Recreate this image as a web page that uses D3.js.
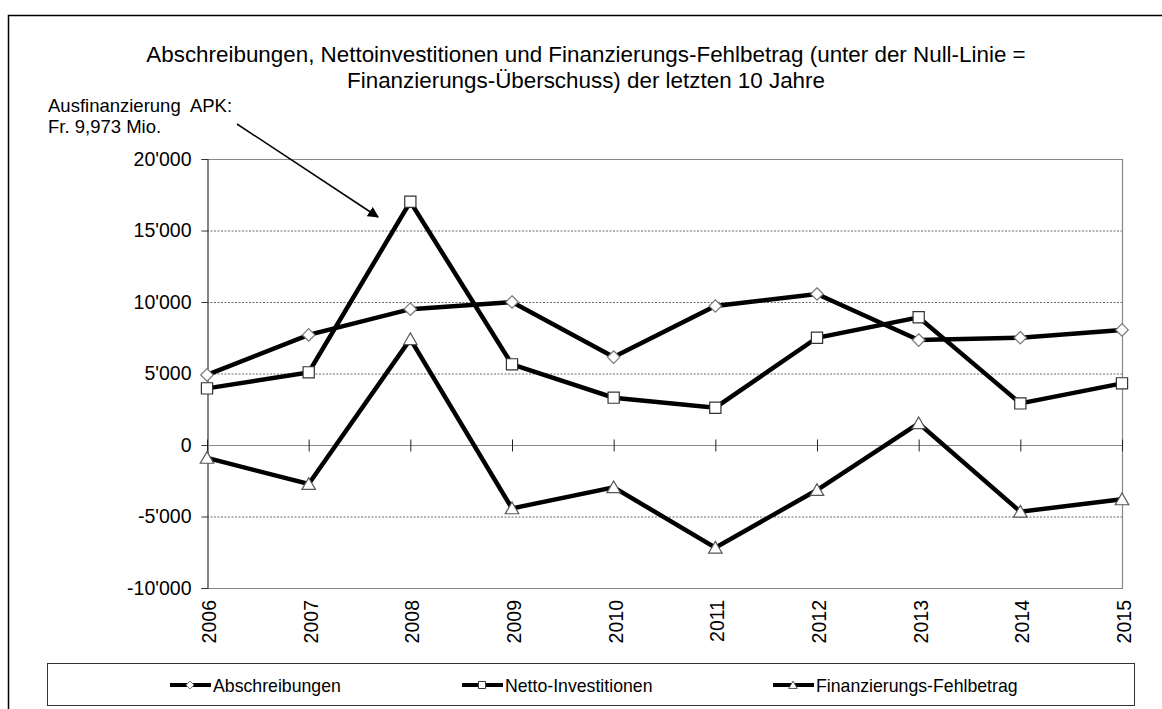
<!DOCTYPE html>
<html>
<head>
<meta charset="utf-8">
<script src="https://cdn.jsdelivr.net/npm/d3@7"></script>
<style>
  body { margin: 0; background: #fff; }
  text { font-family: "Liberation Sans", Arial, sans-serif; fill: #000; }
</style>
</head>
<body>
<svg id="chart"></svg>
<script>
// data
const years = ['2006', '2007', '2008', '2009', '2010', '2011', '2012', '2013', '2014', '2015'];
const abschreibungen = [4900, 7700, 9500, 10000, 6150, 9720, 10560, 7340, 7500, 8050];
const nettoInvestitionen = [3960, 5080, 17010, 5640, 3310, 2610, 7500, 8930, 2910, 4310];
const fehlbetrag = [-900, -2730, 7400, -4430, -2960, -7180, -3150, 1520, -4660, -3800];
const yTicks = [-10000, -5000, 0, 5000, 10000, 15000, 20000];
const seriesNames = ['Abschreibungen', 'Netto-Investitionen', 'Finanzierungs-Fehlbetrag'];

const width = 1162, height = 709;
const margin = { top: 159, right: 40, bottom: 121, left: 207 };

const svg = d3.select('#chart')
    .attr('width', width)
    .attr('height', height);

svg.append('rect').attr('width', width).attr('height', height).attr('fill', '#fff');

// outer frame (runs off the right and bottom edge)
svg.append('rect')
    .attr('x', 8.5).attr('y', 15.5)
    .attr('width', 1300).attr('height', 900)
    .attr('fill', 'none').attr('stroke', '#000').attr('stroke-width', 1.5);

const x = d3.scalePoint()
    .domain(years)
    .range([margin.left, 1122]);

const y = d3.scaleLinear()
    .domain([-10000, 20000])
    .range([588, margin.top]);

const fmt = v => {
    if (v === 0) return '0';
    return d3.format(',')(v).replace(/,/g, "'").replace('−', '-');
};

// title
const title = svg.append('text')
    .attr('text-anchor', 'middle')
    .style('font-size', '22.4px');
title.append('tspan').attr('x', 586).attr('y', 62)
    .text('Abschreibungen, Nettoinvestitionen und Finanzierungs-Fehlbetrag (unter der Null-Linie =');
title.append('tspan').attr('x', 586).attr('y', 88)
    .text('Finanzierungs-Überschuss) der letzten 10 Jahre');

// grid lines
svg.append('g')
    .selectAll('line')
    .data(yTicks.filter(d => d !== 0 && d !== 20000 && d !== -10000))
    .join('line')
    .attr('x1', margin.left).attr('x2', 1122)
    .attr('y1', d => y(d) + 0.5).attr('y2', d => y(d) + 0.5)
    .attr('stroke', '#444').attr('stroke-width', 0.8)
    .attr('stroke-dasharray', '2,1.5');

// plot border (top, right, bottom) in grey
svg.append('path')
    .attr('d', `M${margin.left},${y(20000) + 0.5}H${1122.5}V${y(-10000) + 0.5}H${margin.left}`)
    .attr('fill', 'none').attr('stroke', '#888').attr('stroke-width', 1.2);

// y axis
const yAxis = d3.axisLeft(y).tickValues(yTicks).tickSize(6).tickFormat(fmt);
const yAxisG = svg.append('g')
    .attr('transform', `translate(${margin.left + 0.5},0)`)
    .call(yAxis);
yAxisG.select('.domain').attr('stroke', '#333').attr('stroke-width', 1.2);
yAxisG.selectAll('.tick line').attr('stroke', '#333');
yAxisG.selectAll('.tick text')
    .attr('x', -16)
    .style('font-size', '19.5px')
    .style('font-family', '"Liberation Sans", Arial, sans-serif');

// zero line with x ticks
const xAxisG = svg.append('g')
    .attr('transform', `translate(0,${y(0) + 0.5})`);
xAxisG.append('line')
    .attr('x1', margin.left).attr('x2', 1122)
    .attr('stroke', '#888').attr('stroke-width', 1.2);
xAxisG.selectAll('.xtick')
    .data(years)
    .join('line')
    .attr('class', 'xtick')
    .attr('x1', d => x(d) + 0.5).attr('x2', d => x(d) + 0.5)
    .attr('y1', -6).attr('y2', 6)
    .attr('stroke', '#222');

// x labels, rotated, below the plot
svg.append('g')
    .selectAll('text')
    .data(years)
    .join('text')
    .attr('transform', d => `translate(${x(d) + 9},600) rotate(-90)`)
    .attr('text-anchor', 'end')
    .style('font-size', '19.5px')
    .text(d => d);

// markers
const diamond = d3.symbol().type(d3.symbolDiamond2);
const square = d3.symbol().type(d3.symbolSquare2);
const triangle = d3.symbol().type(d3.symbolTriangle2);

const series = [
    { name: seriesNames[0], values: abschreibungen, sym: diamond, size: 100, stroke: '#777' },
    { name: seriesNames[1], values: nettoInvestitionen, sym: square, size: 160, stroke: '#333' },
    { name: seriesNames[2], values: fehlbetrag, sym: triangle, size: 130, stroke: '#555' }
];

const line = d3.line()
    .x((d, i) => x(years[i]))
    .y(d => y(d));

series.forEach(s => {
    svg.append('path')
        .datum(s.values)
        .attr('d', line)
        .attr('fill', 'none')
        .attr('stroke', '#000')
        .attr('stroke-width', 4.5)
        .attr('stroke-linejoin', 'miter');
});

series.forEach(s => {
    svg.append('g')
        .selectAll('path')
        .data(s.values)
        .join('path')
        .attr('transform', (d, i) => `translate(${x(years[i])},${y(d) + (s.sym === triangle ? 1.5 : 0)})`)
        .attr('d', s.sym.size(s.size))
        .attr('fill', '#fff')
        .attr('stroke', s.stroke)
        .attr('stroke-width', 1.2);
});

// annotation
const note = svg.append('text').style('font-size', '18.5px');
note.append('tspan').attr('x', 48).attr('y', 112).text('Ausfinanzierung  APK:').style('white-space', 'pre');
note.append('tspan').attr('x', 48).attr('y', 133).text('Fr. 9,973 Mio.');

svg.append('defs').append('marker')
    .attr('id', 'arrow')
    .attr('viewBox', '0 0 10 10')
    .attr('refX', 9).attr('refY', 5)
    .attr('markerWidth', 11).attr('markerHeight', 11)
    .attr('markerUnits', 'userSpaceOnUse')
    .attr('orient', 'auto')
    .append('path')
    .attr('d', 'M0,0L10,5L0,10Z')
    .attr('fill', '#000');

svg.append('line')
    .attr('x1', 237).attr('y1', 124)
    .attr('x2', 378).attr('y2', 217)
    .attr('stroke', '#000').attr('stroke-width', 1.5)
    .attr('marker-end', 'url(#arrow)');

// legend
const legend = svg.append('g');
legend.append('rect')
    .attr('x', 47.5).attr('y', 663.5)
    .attr('width', 1087).attr('height', 42)
    .attr('fill', '#fff').attr('stroke', '#333').attr('stroke-width', 1);

const legendX = [170, 462, 773];
const legendItems = legend.selectAll('g.item')
    .data(series)
    .join('g')
    .attr('class', 'item')
    .attr('transform', (d, i) => `translate(${legendX[i]},685)`);

legendItems.append('line')
    .attr('x1', 0).attr('x2', 41)
    .attr('stroke', '#000').attr('stroke-width', 4);
legendItems.append('path')
    .attr('transform', d => `translate(20,${d.sym === triangle ? 1 : 0})`)
    .attr('d', d => d.sym.size(d.size * 0.4)())
    .attr('fill', '#fff')
    .attr('stroke', d => d.stroke)
    .attr('stroke-width', 1);
legendItems.append('text')
    .attr('x', 43)
    .attr('y', 6.5)
    .style('font-size', '17.7px')
    .text(d => d.name);
</script>
</body>
</html>
